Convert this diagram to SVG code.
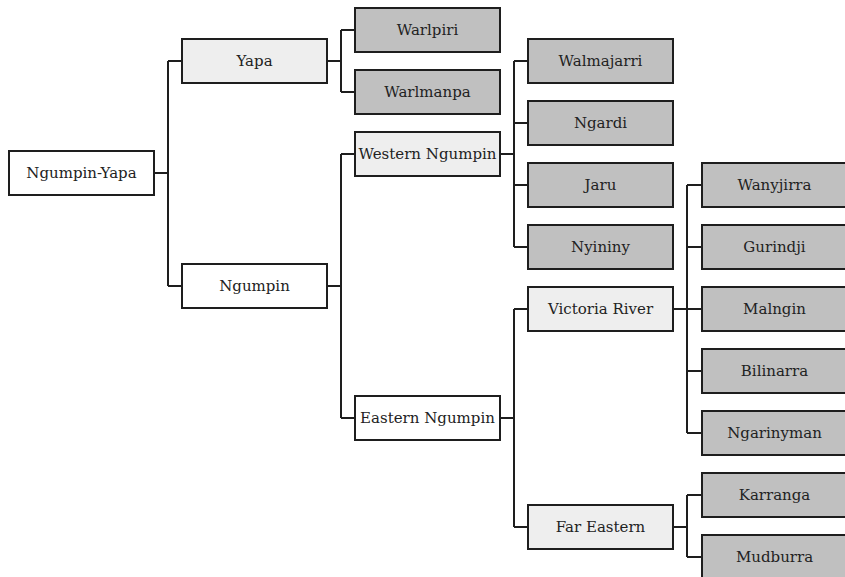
<svg xmlns="http://www.w3.org/2000/svg" width="845" height="577" viewBox="0 0 845 577">
<style>
rect{stroke:#1e1e1e;stroke-width:2}
.w{fill:#ffffff}
.l{fill:#eeeeee}
.d{fill:#c0c0c0}
.t{fill:#222222;text-anchor:middle;dominant-baseline:central}
#connectors path{fill:none;stroke:#1e1e1e;stroke-width:2}
</style>
<rect width="845" height="577" fill="#ffffff" style="stroke:none"/>
<g id="connectors">
<path d="M154 173H168M168 61V286M168 61H182M168 286H182"/>
<path d="M327 61H341M341 30V92M341 30H355M341 92H355"/>
<path d="M327 286H341M341 154V418M341 154H355M341 418H355"/>
<path d="M500 154H514M514 61V247M514 61H528M514 123H528M514 185H528M514 247H528"/>
<path d="M500 418H514M514 309V527M514 309H528M514 527H528"/>
<path d="M673 309H687M687 185V433M687 185H702M687 247H702M687 309H702M687 371H702M687 433H702"/>
<path d="M673 527H687M687 495V557M687 495H702M687 557H702"/>
</g>
<g font-family="DejaVu Serif" font-size="15">
<g id="n-ngumpin-yapa"><rect class="w" x="9" y="151" width="145" height="44"/><text class="t" x="81.5" y="173">Ngumpin-Yapa</text></g>
<g id="n-yapa"><rect class="l" x="182" y="39" width="145" height="44"/><text class="t" x="254.5" y="61">Yapa</text></g>
<g id="n-ngumpin"><rect class="w" x="182" y="264" width="145" height="44"/><text class="t" x="254.5" y="286">Ngumpin</text></g>
<g id="n-warlpiri"><rect class="d" x="355" y="8" width="145" height="44"/><text class="t" x="427.5" y="30">Warlpiri</text></g>
<g id="n-warlmanpa"><rect class="d" x="355" y="70" width="145" height="44"/><text class="t" x="427.5" y="92">Warlmanpa</text></g>
<g id="n-western-ngumpin"><rect class="l" x="355" y="132" width="145" height="44"/><text class="t" x="427.5" y="154">Western Ngumpin</text></g>
<g id="n-eastern-ngumpin"><rect class="w" x="355" y="396" width="145" height="44"/><text class="t" x="427.5" y="418">Eastern Ngumpin</text></g>
<g id="n-walmajarri"><rect class="d" x="528" y="39" width="145" height="44"/><text class="t" x="600.5" y="61">Walmajarri</text></g>
<g id="n-ngardi"><rect class="d" x="528" y="101" width="145" height="44"/><text class="t" x="600.5" y="123">Ngardi</text></g>
<g id="n-jaru"><rect class="d" x="528" y="163" width="145" height="44"/><text class="t" x="600.5" y="185">Jaru</text></g>
<g id="n-nyininy"><rect class="d" x="528" y="225" width="145" height="44"/><text class="t" x="600.5" y="247">Nyininy</text></g>
<g id="n-victoria-river"><rect class="l" x="528" y="287" width="145" height="44"/><text class="t" x="600.5" y="309">Victoria River</text></g>
<g id="n-far-eastern"><rect class="l" x="528" y="505" width="145" height="44"/><text class="t" x="600.5" y="527">Far Eastern</text></g>
<g id="n-wanyjirra"><rect class="d" x="702" y="163" width="145" height="44"/><text class="t" x="774.5" y="185">Wanyjirra</text></g>
<g id="n-gurindji"><rect class="d" x="702" y="225" width="145" height="44"/><text class="t" x="774.5" y="247">Gurindji</text></g>
<g id="n-malngin"><rect class="d" x="702" y="287" width="145" height="44"/><text class="t" x="774.5" y="309">Malngin</text></g>
<g id="n-bilinarra"><rect class="d" x="702" y="349" width="145" height="44"/><text class="t" x="774.5" y="371">Bilinarra</text></g>
<g id="n-ngarinyman"><rect class="d" x="702" y="411" width="145" height="44"/><text class="t" x="774.5" y="433">Ngarinyman</text></g>
<g id="n-karranga"><rect class="d" x="702" y="473" width="145" height="44"/><text class="t" x="774.5" y="495">Karranga</text></g>
<g id="n-mudburra"><rect class="d" x="702" y="535" width="145" height="44"/><text class="t" x="774.5" y="557">Mudburra</text></g>
</g>
</svg>
